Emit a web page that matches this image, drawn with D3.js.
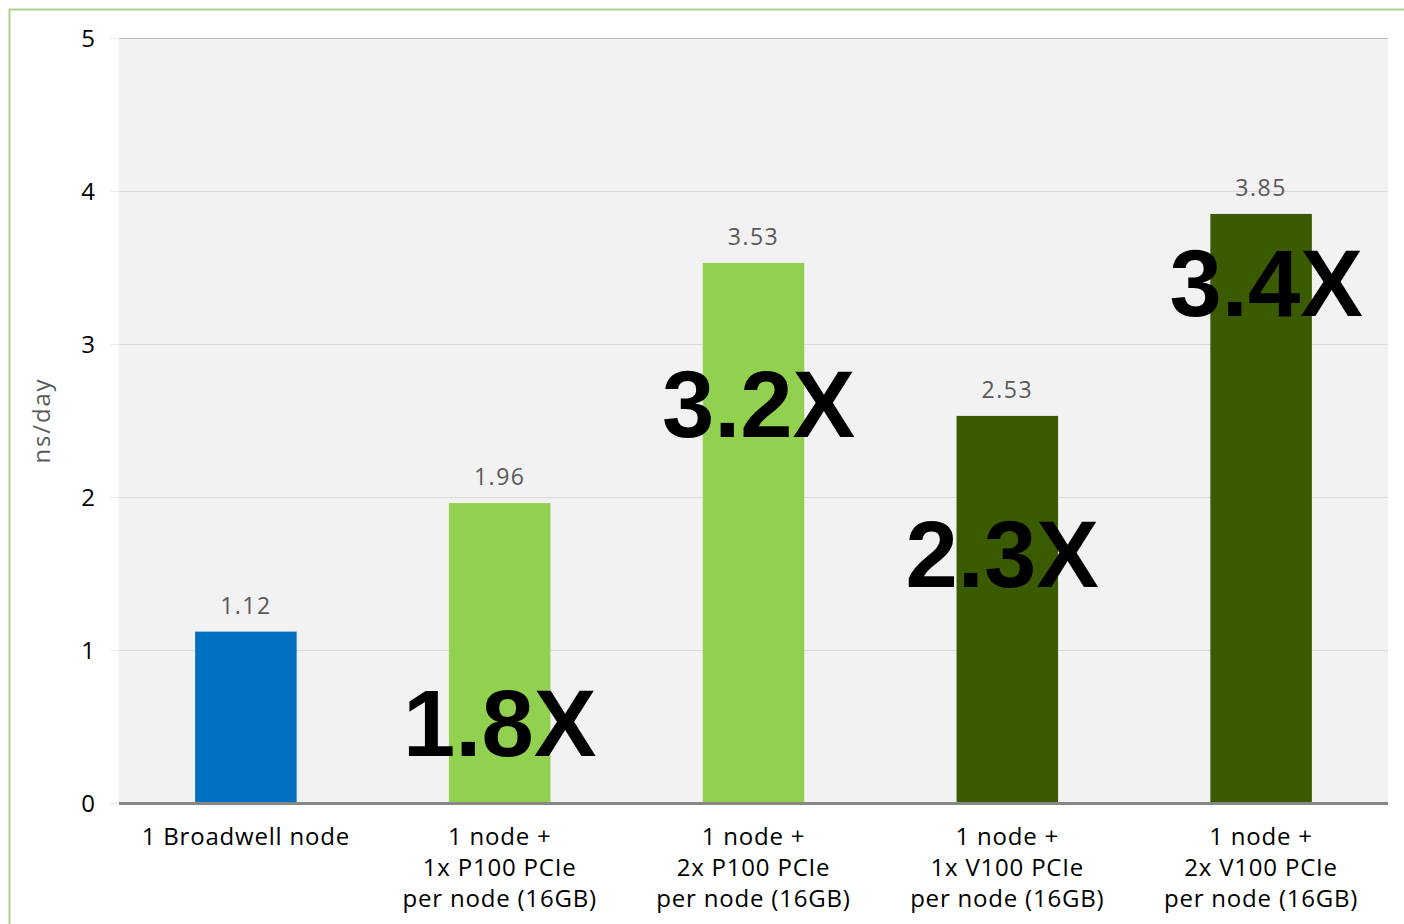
<!DOCTYPE html>
<html>
<head>
<meta charset="utf-8">
<script src="https://cdn.jsdelivr.net/npm/d3@7"></script>
<style>
  html, body { margin: 0; padding: 0; background: #ffffff; }
  svg { display: block; }
</style>
</head>
<body>
<svg id="chart" width="1404" height="924"></svg>
<script>
// ---- data ----
const categories = [
  ["1 Broadwell node"],
  ["1 node +", "1x P100 PCIe", "per node (16GB)"],
  ["1 node +", "2x P100 PCIe", "per node (16GB)"],
  ["1 node +", "1x V100 PCIe", "per node (16GB)"],
  ["1 node +", "2x V100 PCIe", "per node (16GB)"]
];
const values = [1.12, 1.96, 3.53, 2.53, 3.85];
const barColors = ["#0070c0", "#92d050", "#92d050", "#3b5b00", "#3b5b00"];
const speedupLabels = [null, "1.8X", "3.2X", "2.3X", "3.4X"];
const speedupLevels = [null, 0.31, 2.39, 1.41, 3.18];   // baseline level of annotation, in ns/day units
const speedupShift = [0, 0.0, 0.02, -0.02, 0.02];      // horizontal shift as fraction of band step
const yTicks = [0, 1, 2, 3, 4, 5];
const yTitle = "ns/day";

// ---- layout ----
const svg = d3.select("#chart");
const W = 1404, H = 924;
const plot = { left: 119, right: 1388, top: 38, bottom: 803 };
const FONT = "'Open Sans', sans-serif";

// outer frame (light green)
svg.append("path")
  .attr("d", `M9.5,${H + 2} L9.5,9.5 L${W + 2},9.5`)
  .attr("fill", "none").attr("stroke", "#a9d18e").attr("stroke-width", 2);

const x = d3.scaleBand()
  .domain(d3.range(values.length))
  .range([plot.left, plot.right])
  .paddingInner(0.6).paddingOuter(0.3);

const y = d3.scaleLinear().domain([0, 5]).range([plot.bottom, plot.top]);

// plot background
svg.append("rect")
  .attr("x", plot.left).attr("y", plot.top)
  .attr("width", plot.right - plot.left).attr("height", plot.bottom - plot.top)
  .attr("fill", "#f2f2f2");

// y axis with gridlines
const yAxis = d3.axisLeft(y).tickValues(yTicks).tickFormat(d3.format("d")).tickSize(0).tickPadding(0);
const gy = svg.append("g").attr("transform", `translate(${plot.left},0)`).call(yAxis);
gy.select(".domain").remove();
gy.selectAll(".tick line").remove();
gy.selectAll(".tick").append("line")
  .attr("x1", -9).attr("x2", 0).attr("stroke", "#ececec").attr("stroke-width", 1);
gy.selectAll(".tick").append("line")
  .attr("x1", 0).attr("x2", plot.right - plot.left)
  .attr("stroke", d => d === 5 ? "#bfbfbf" : "#d9d9d9").attr("stroke-width", 1)
  .attr("shape-rendering", "crispEdges");
gy.selectAll(".tick text")
  .attr("x", -31).attr("dy", "0.36em")
  .attr("text-anchor", "middle")
  .attr("fill", "#000").attr("font-family", FONT)
  .attr("font-size", 24);

// y title
svg.append("text")
  .attr("transform", `translate(50,${(plot.top + plot.bottom) / 2}) rotate(-90)`)
  .attr("text-anchor", "middle")
  .attr("fill", "#595959").attr("font-family", FONT)
  .attr("font-size", 24).attr("letter-spacing", 1.8)
  .text(yTitle);

// bars
svg.append("g").selectAll("rect").data(values).join("rect")
  .attr("x", (d, i) => x(i)).attr("width", x.bandwidth())
  .attr("y", d => y(d)).attr("height", d => y(0) - y(d))
  .attr("fill", (d, i) => barColors[i]);

// baseline
svg.append("line")
  .attr("x1", plot.left).attr("x2", plot.right)
  .attr("y1", y(0) + 0.5).attr("y2", y(0) + 0.5)
  .attr("stroke", "#878787").attr("stroke-width", 3);

// value labels
svg.append("g").selectAll("text").data(values).join("text")
  .attr("x", (d, i) => x(i) + x.bandwidth() / 2)
  .attr("y", d => y(d) - 18)
  .attr("text-anchor", "middle")
  .attr("fill", "#595959").attr("font-family", FONT)
  .attr("font-size", 23).attr("letter-spacing", 1.5)
  .text(d => d.toFixed(2));

// category labels
const gx = svg.append("g");
categories.forEach((lines, i) => {
  const t = gx.append("text")
    .attr("text-anchor", "middle")
    .attr("fill", "#000").attr("font-family", FONT)
    .attr("font-size", 24).attr("letter-spacing", 0.8);
  lines.forEach((ln, j) => {
    t.append("tspan")
      .attr("x", x(i) + x.bandwidth() / 2)
      .attr("y", 845 + j * 31)
      .text(ln);
  });
});

// speedup annotations
svg.append("g").selectAll("text").data(speedupLabels.map((s, i) => ({ s, i })).filter(d => d.s))
  .join("text")
  .attr("x", d => x(d.i) + x.bandwidth() / 2 + speedupShift[d.i] * x.step())
  .attr("y", d => y(speedupLevels[d.i]))
  .attr("text-anchor", "middle")
  .attr("fill", "#000").attr("font-family", "'Liberation Sans', Arial, sans-serif")
  .attr("font-weight", "bold").attr("font-size", 94)
  .text(d => d.s);
</script>
</body>
</html>
